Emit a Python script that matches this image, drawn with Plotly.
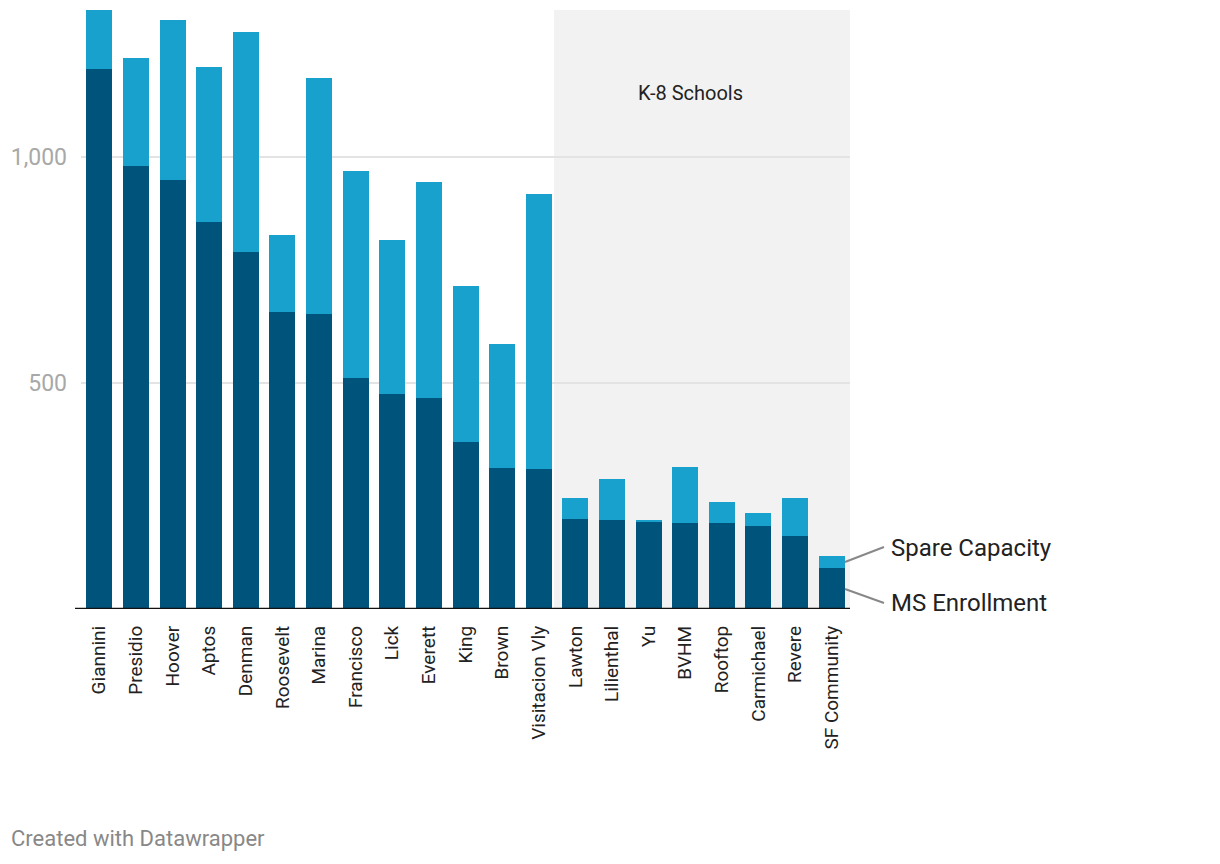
import plotly.graph_objects as go

schools = ["Giannini", "Presidio", "Hoover", "Aptos", "Denman", "Roosevelt", "Marina",
           "Francisco", "Lick", "Everett", "King", "Brown", "Visitacion Vly", "Lawton",
           "Lilienthal", "Yu", "BVHM", "Rooftop", "Carmichael", "Revere", "SF Community"]
ms_enrollment = [1194, 979, 948, 856, 789, 657, 652, 511, 475, 466, 369, 312, 310,
                 199, 197, 192, 190, 190, 184, 161, 91]
spare_capacity = [130, 239, 354, 342, 487, 170, 522, 457, 341, 478, 345, 274, 607,
                  46, 90, 5, 124, 47, 28, 84, 26]
y_ticks = [500, 1000]
y_ticktext = ["500", "1,000"]

DARK = "#00537b"
LIGHT = "#18a1cd"
FONT = "Roboto"

# page body has an 8px margin; compensate
OFF = 8
PL, PT, PR, PB = 81, 10, 850, 609  # plot area in page pixels
W, H = 1220 - OFF, 864 - OFF
PW = PR - PL
PH = PB - PT


def px_x(x):
    return (x - PL) / PW


def px_y(y):
    return (PB - y) / PH


fig = go.Figure()
fig.add_trace(go.Bar(x=schools, y=ms_enrollment, name="MS Enrollment",
                     marker=dict(color=DARK, line=dict(width=0))))
fig.add_trace(go.Bar(x=schools, y=spare_capacity, name="Spare Capacity",
                     marker=dict(color=LIGHT, line=dict(width=0))))

fig.update_layout(
    width=W, height=H,
    barmode="stack", bargap=0.29,
    showlegend=False,
    plot_bgcolor="white", paper_bgcolor="white",
    margin=dict(l=PL - OFF, r=W - (PR - OFF), t=PT - OFF, b=H - (PB - OFF)),
    font=dict(family=FONT, color="#222"),
    xaxis=dict(range=[-0.5, 20.5], tickangle=-90, showgrid=False, zeroline=False,
               showline=False, ticks="", ticklabelstandoff=12,
               tickfont=dict(size=19, color="#222", family=FONT)),
    yaxis=dict(range=[0, 1324], tickvals=y_ticks, ticktext=y_ticktext,
               showgrid=True, gridcolor="#e3e3e3", gridwidth=1.5,
               zeroline=False, showline=False, ticks="", ticklabelstandoff=13,
               tickfont=dict(size=23, color="#a8a8a8", family=FONT)),
)

# K-8 shaded region
fig.add_shape(type="rect", xref="x", yref="paper", x0=12.42, x1=20.5, y0=0, y1=1,
              fillcolor="#f2f2f2", line=dict(width=0), layer="below")
fig.add_annotation(x=px_x(690), xref="paper", y=px_y(93), yref="paper",
                   xanchor="center", yanchor="middle", text="K-8 Schools",
                   showarrow=False, font=dict(size=20, color="#222", family=FONT))

# baseline
fig.add_shape(type="line", xref="paper", yref="y", x0=px_x(75), x1=1, y0=0, y1=0,
              line=dict(color="#111", width=2.5))

# direct labels
fig.add_shape(type="line", xref="paper", yref="paper",
              x0=px_x(845), x1=px_x(884), y0=px_y(562), y1=px_y(547),
              line=dict(color="#888", width=2))
fig.add_shape(type="line", xref="paper", yref="paper",
              x0=px_x(845), x1=px_x(884), y0=px_y(589), y1=px_y(603),
              line=dict(color="#888", width=2))
fig.add_annotation(x=px_x(889), xref="paper", y=px_y(548), yref="paper",
                   xanchor="left", yanchor="middle",
                   text="Spare Capacity", showarrow=False,
                   font=dict(size=24, color="#222", family=FONT))
fig.add_annotation(x=px_x(889), xref="paper", y=px_y(603), yref="paper",
                   xanchor="left", yanchor="middle",
                   text="MS Enrollment", showarrow=False,
                   font=dict(size=24, color="#222", family=FONT))

# footer
fig.add_annotation(x=px_x(9), xref="paper", y=px_y(838), yref="paper",
                   xanchor="left", yanchor="middle",
                   text="Created with Datawrapper", showarrow=False,
                   font=dict(size=22, color="#888", family=FONT))

fig.write_html("out.html")
